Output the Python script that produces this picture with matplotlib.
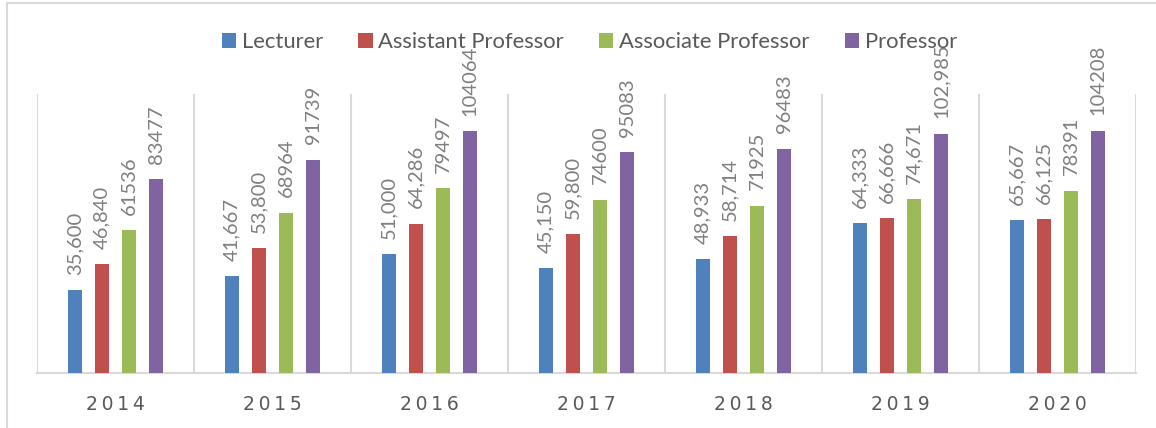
import matplotlib
matplotlib.use("Agg")
import matplotlib.pyplot as plt
from matplotlib.patches import Rectangle
import numpy as np

years = ["2014", "2015", "2016", "2017", "2018", "2019", "2020"]
series_names = ["Lecturer", "Assistant Professor", "Associate Professor", "Professor"]
lecturer = [35600, 41667, 51000, 45150, 48933, 64333, 65667]
assistant = [46840, 53800, 64286, 59800, 58714, 66666, 66125]
associate = [61536, 68964, 79497, 74600, 71925, 74671, 78391]
professor = [83477, 91739, 104064, 95083, 96483, 102985, 104208]
lecturer_labels = ["35,600", "41,667", "51,000", "45,150", "48,933", "64,333", "65,667"]
assistant_labels = ["46,840", "53,800", "64,286", "59,800", "58,714", "66,666", "66,125"]
associate_labels = ["61536", "68964", "79497", "74600", "71925", "74,671", "78391"]
professor_labels = ["83477", "91739", "104064", "95083", "96483", "102,985", "104208"]

colors = ["#4F81BD", "#C0504D", "#9BBB59", "#8064A2"]
plt.rcParams['font.family'] = ['Lato', 'DejaVu Sans']

fig = plt.figure(figsize=(11.56, 4.28), dpi=100)
ax = fig.add_axes([37/1156, 55/428, 1099/1156, 279/428])

x = np.arange(len(years))
width = 0.09
step = 0.172
all_vals = [lecturer, assistant, associate, professor]
all_labels = [lecturer_labels, assistant_labels, associate_labels, professor_labels]
for i, (vals, labs, c, name) in enumerate(zip(all_vals, all_labels, colors, series_names)):
    pos = x + (i - 1.5) * step
    ax.bar(pos, vals, width=width, color=c, label=name, zorder=3)
    for p, v, l in zip(pos, vals, labs):
        ax.annotate(l, (p, v), xytext=(0, 11), textcoords="offset points",
                    rotation=90, ha="center", va="bottom", fontsize=14.5,
                    color="#7F7F7F", annotation_clip=False)

ax.set_xlim(-0.5, len(years) - 0.5)
ax.set_ylim(0, 120000)
for b in np.arange(-0.5, len(years), 1.0):
    ax.axvline(b, color="#D9D9D9", lw=1.5, zorder=1)
for s in ["top", "right", "left"]:
    ax.spines[s].set_visible(False)
ax.spines["bottom"].set_color("#D9D9D9")
ax.spines["bottom"].set_linewidth(1.5)
ax.set_yticks([])
ax.set_xticks(x)
ax.set_xticklabels(["\u2009".join(y) for y in years], fontsize=13.5, color="#595959",
                   family=['DejaVu Sans'])
ax.tick_params(axis="x", length=0, pad=16)

leg = fig.legend(loc="center", bbox_to_anchor=(589.5/1156, 1 - 42/428), ncol=4,
                 frameon=False, fontsize=15.8, handlelength=0.64, handleheight=0.64,
                 handletextpad=0.27, columnspacing=1.6, labelcolor="#595959")

fig.patches.append(Rectangle((7/1156, -0.1), 1.2, 1 - 3/428 + 0.1, transform=fig.transFigure,
                             fill=False, edgecolor="#D9D9D9", lw=1.5))

fig.savefig("out.png", dpi=100)
